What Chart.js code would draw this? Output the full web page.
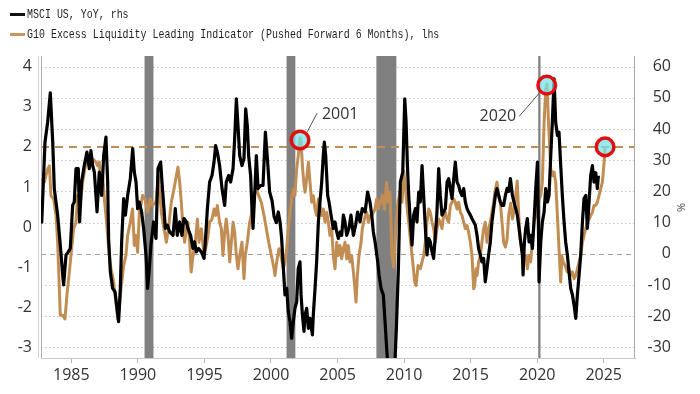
<!DOCTYPE html>
<html>
<head>
<meta charset="utf-8">
<script src="https://cdn.jsdelivr.net/npm/chart.js@4.4.1/dist/chart.umd.min.js"></script>
<style>
html,body{margin:0;padding:0;background:#fff;}
#wrap{position:relative;width:700px;height:394px;overflow:hidden;}
#c{position:absolute;left:0;top:0;}
.mk{position:absolute;left:10px;width:15px;height:3px;}
.leg{position:absolute;left:27px;font-family:'Liberation Mono','DejaVu Sans Mono',monospace;font-size:13px;line-height:15px;color:#1e1e1e;white-space:nowrap;transform:scaleX(0.766);transform-origin:0 50%;}
#pct{position:absolute;left:677px;top:200px;font-family:'Open Sans',sans-serif;font-size:11px;color:#444;transform:rotate(90deg);transform-origin:50% 50%;}
</style>
</head>
<body>
<div id="wrap">
<canvas id="c" width="700" height="394"></canvas>
<div class="mk" style="top:13px;background:#111;"></div>
<div class="leg" style="top:6.5px;">MSCI US, YoY, rhs</div>
<div class="mk" style="top:33px;background:#c8965c;"></div>
<div class="leg" style="top:26.5px;">G10 Excess Liquidity Leading Indicator (Pushed Forward 6 Months), lhs</div>
<div id="pct">%</div>
</div>
<script>
// ---- Data (decimal years) ----
const msciYears = [1982.77,1983.02,1983.22,1983.42,1983.6,1983.72,1983.97,1984.17,1984.35,1984.42,1984.6,1984.77,1984.92,1985.1,1985.22,1985.35,1985.52,1985.62,1985.77,1985.97,1986.17,1986.35,1986.47,1986.6,1986.73,1986.93,1987.1,1987.28,1987.43,1987.6,1987.73,1987.8,1987.93,1988.1,1988.28,1988.43,1988.55,1988.68,1988.78,1988.93,1989.06,1989.23,1989.43,1989.61,1989.73,1989.86,1989.98,1990.11,1990.28,1990.43,1990.61,1990.73,1990.86,1990.98,1991.18,1991.36,1991.51,1991.71,1991.81,1991.96,1992.06,1992.21,1992.39,1992.64,1992.81,1992.96,1993.14,1993.31,1993.46,1993.64,1993.76,1993.96,1994.14,1994.26,1994.39,1994.56,1994.77,1994.97,1995.07,1995.22,1995.39,1995.57,1995.72,1995.84,1995.97,1996.14,1996.32,1996.52,1996.64,1996.82,1996.97,1997.15,1997.27,1997.4,1997.52,1997.65,1997.82,1997.97,1998.1,1998.22,1998.32,1998.47,1998.57,1998.65,1998.77,1998.9,1999.03,1999.22,1999.4,1999.58,1999.73,1999.9,2000.08,2000.23,2000.4,2000.55,2000.68,2000.8,2000.93,2001.05,2001.18,2001.3,2001.43,2001.55,2001.68,2001.8,2001.93,2002.05,2002.18,2002.26,2002.36,2002.48,2002.56,2002.68,2002.81,2002.93,2003.11,2003.18,2003.31,2003.43,2003.56,2003.68,2003.81,2003.93,2004.01,2004.11,2004.26,2004.36,2004.51,2004.68,2004.81,2004.94,2005.06,2005.19,2005.31,2005.44,2005.56,2005.69,2005.86,2006.01,2006.19,2006.36,2006.51,2006.69,2006.86,2007.07,2007.26,2007.44,2007.57,2007.69,2007.82,2008.02,2008.12,2008.27,2008.44,2008.57,2008.69,2008.82,2008.98,2009.14,2009.28,2009.42,2009.57,2009.72,2009.9,2010.05,2010.15,2010.25,2010.35,2010.47,2010.6,2010.72,2010.85,2010.97,2011.1,2011.22,2011.35,2011.47,2011.6,2011.72,2011.85,2011.97,2012.1,2012.22,2012.35,2012.47,2012.6,2012.72,2012.85,2012.97,2013.1,2013.23,2013.35,2013.48,2013.6,2013.73,2013.85,2013.98,2014.1,2014.23,2014.35,2014.48,2014.6,2014.73,2014.85,2014.98,2015.1,2015.23,2015.35,2015.48,2015.6,2015.73,2015.85,2015.98,2016.1,2016.23,2016.35,2016.48,2016.6,2016.73,2016.86,2016.98,2017.11,2017.23,2017.36,2017.48,2017.61,2017.74,2017.86,2017.99,2018.14,2018.26,2018.39,2018.51,2018.64,2018.76,2018.89,2018.94,2019.04,2019.14,2019.26,2019.39,2019.51,2019.64,2019.76,2019.89,2020.02,2020.09,2020.14,2020.27,2020.39,2020.52,2020.64,2020.77,2020.89,2021.02,2021.14,2021.27,2021.39,2021.52,2021.64,2021.77,2021.89,2022.02,2022.14,2022.27,2022.39,2022.52,2022.65,2022.77,2022.9,2023.02,2023.15,2023.27,2023.4,2023.52,2023.65,2023.77,2023.9,2024.02,2024.15,2024.27,2024.4,2024.52,2024.6];
const msciYoY = [9.7,35.8,42.2,51.6,35.8,20.9,12.4,2.8,-6.8,-10,-0.4,0.6,1.7,15.6,16.6,27.3,27.3,10.2,23,28.3,32.6,27.3,33.1,28.3,26.2,13.4,26.2,18.7,31.5,37.4,23,4.9,-5.8,-11.1,-12.2,-17.5,-21.8,-11.1,3.8,17.7,12.4,18.7,24.1,33.7,26.2,23,14.5,16.6,13.4,8.1,-0.4,-11.1,-4.7,2.8,10.2,4.9,27.3,29.4,23,14.5,8.1,9.2,7,5.9,14.5,5.9,10.2,5.9,11.3,10.2,8.1,5.9,1.7,3.8,0.6,1.7,0.6,-1.5,3.8,14.5,23,25.1,29.4,34.7,32.6,28.3,20.9,15.5,23,25.1,23,27.3,36.9,49.7,41.1,31.5,28.3,30.5,46.5,41.1,31.5,25.1,14.5,8.1,18.7,31.5,20.9,21.9,21.9,39,30.5,19.8,17,12,10,13.4,10.2,4.9,-4.7,-13.2,-11.1,-18.6,-21.8,-27.1,-21.8,-17.5,-15.4,-4.7,-2.6,-13.2,-19.6,-24.9,-19.6,-17.5,-23.9,-20.7,-26,-19.6,-11.1,-2.6,10.2,16.6,23,31.5,35.8,31.5,18.7,16.6,12.4,8.1,10.2,7,4.9,7,5.9,12.4,10.2,5.9,8.1,12.4,5.9,9.2,13.4,10.2,14.5,13.4,19.8,16.6,12.4,7,3.8,-2.6,-6.8,-11.1,-13.2,-21.8,-30.3,-38,-43,-45,-38,-24,-5,23,26.2,49.7,42.2,28.3,18.7,10.2,2.8,12.4,14.5,10.2,19.8,16.6,28.3,18.7,8.1,-0.4,4.9,3.8,0.6,-1.5,5.9,13.4,27.3,18.7,12.4,13.4,14.5,23,24.1,20.9,17.7,24.1,29.4,23,21.9,19.8,18.7,20.9,16.6,14.5,13.4,12.4,11.3,10.2,9.2,5.9,1.7,-0.4,-2.6,-1.5,-9,-4.7,-0.4,3.8,10.2,14.5,18.7,20.9,18.7,16.6,15.5,15.5,18.7,21,20,24.1,18.7,16.6,14.5,12.4,8.1,3.8,-0.4,-6.8,3.8,8.1,11.3,3.8,5.9,1.7,10.2,20.9,29.4,10.2,-9,3.8,10.2,13.4,20.9,16.6,18.7,31.5,42.2,56.1,42.2,37.9,39,28.3,18.7,10.2,3.8,-0.4,-5.8,-11.1,-13.2,-16.4,-20.7,-13.2,-6.8,-0.4,10.2,17.7,18.7,8.1,16.6,25.1,28.3,23,26,20.9,25.1];

const liqYears = [1982.72,1982.97,1983.22,1983.35,1983.47,1983.67,1983.85,1983.97,1984.1,1984.17,1984.35,1984.52,1984.67,1984.85,1984.97,1985.17,1985.35,1985.47,1985.6,1985.85,1986.02,1986.22,1986.42,1986.6,1986.85,1986.97,1987.1,1987.23,1987.35,1987.48,1987.6,1987.73,1987.85,1987.98,1988.18,1988.35,1988.48,1988.6,1988.73,1988.93,1989.1,1989.23,1989.43,1989.6,1989.73,1989.86,1989.98,1990.11,1990.36,1990.53,1990.73,1990.93,1991.1,1991.36,1991.54,1991.76,1991.96,1992.14,1992.31,1992.51,1992.71,1992.89,1993.01,1993.14,1993.26,1993.39,1993.51,1993.64,1993.76,1993.89,1994.0,1994.14,1994.31,1994.47,1994.59,1994.77,1994.97,1995.14,1995.27,1995.39,1995.57,1995.72,1995.84,1995.97,1996.14,1996.27,1996.39,1996.52,1996.64,1996.77,1996.9,1997.02,1997.15,1997.27,1997.4,1997.52,1997.65,1997.82,1997.97,1998.07,1998.22,1998.4,1998.52,1998.72,1998.9,1999.07,1999.27,1999.48,1999.65,1999.83,2000.03,2000.23,2000.3,2000.43,2000.6,2000.75,2000.93,2001.05,2001.18,2001.3,2001.43,2001.55,2001.68,2001.8,2001.93,2002.05,2002.18,2002.26,2002.36,2002.46,2002.56,2002.68,2002.81,2002.93,2003.06,2003.18,2003.31,2003.43,2003.56,2003.68,2003.81,2003.93,2004.06,2004.18,2004.31,2004.43,2004.56,2004.68,2004.81,2004.94,2005.06,2005.19,2005.31,2005.44,2005.56,2005.69,2005.81,2005.94,2006.06,2006.19,2006.31,2006.39,2006.49,2006.61,2006.77,2006.86,2007.02,2007.19,2007.32,2007.44,2007.57,2007.82,2007.94,2008.07,2008.19,2008.37,2008.52,2008.69,2008.82,2008.94,2009.09,2009.22,2009.35,2009.5,2009.72,2009.85,2009.97,2010.1,2010.22,2010.35,2010.47,2010.6,2010.72,2010.8,2010.9,2011.05,2011.22,2011.35,2011.47,2011.6,2011.72,2011.85,2011.97,2012.1,2012.22,2012.35,2012.47,2012.6,2012.72,2012.85,2012.97,2013.1,2013.23,2013.35,2013.48,2013.6,2013.73,2013.85,2013.98,2014.1,2014.23,2014.35,2014.48,2014.6,2014.73,2014.85,2014.98,2015.1,2015.23,2015.3,2015.41,2015.48,2015.6,2015.73,2015.85,2015.98,2016.1,2016.23,2016.35,2016.48,2016.6,2016.73,2016.86,2016.98,2017.11,2017.23,2017.36,2017.48,2017.61,2017.74,2017.86,2018.01,2018.14,2018.26,2018.39,2018.5,2018.6,2018.72,2018.85,2019.01,2019.14,2019.26,2019.39,2019.51,2019.64,2019.76,2019.89,2020.02,2020.14,2020.27,2020.39,2020.52,2020.64,2020.74,2020.85,2021.02,2021.14,2021.27,2021.39,2021.52,2021.64,2021.77,2021.85,2021.95,2022.1,2022.27,2022.4,2022.52,2022.65,2022.77,2022.9,2023.02,2023.15,2023.27,2023.4,2023.52,2023.65,2023.77,2023.9,2024.02,2024.15,2024.27,2024.4,2024.52,2024.65,2024.77,2024.9,2025.03,2025.1];
const liqIndicator = [1.2,1.12,1.45,1.53,0.78,0.7,0.29,-0.38,-1.54,-2.2,-2.2,-2.29,-1.7,-1.12,-0.71,-0.04,0.12,0.79,0.37,1.12,1.45,1.78,1.53,1.7,1.62,1.53,1.62,0.95,1.28,0.7,0.29,-0.21,-0.71,-1.04,-1.37,-1.87,-2.29,-2.04,-1.54,-0.96,-0.71,-0.21,0.12,0.45,-0.46,-0.21,-0.63,0.37,0.79,0.7,0.37,0.7,0.54,0.62,1.28,0.37,-0.04,-0.38,0.0,0.62,0.95,1.28,1.49,1.12,0.62,-0.04,-0.38,-0.04,0.12,-0.38,-1.12,-0.71,-0.38,0.2,-0.38,-0.04,-0.71,-0.46,-0.21,0.12,0.2,0.45,0.29,0.54,0.12,-0.04,-0.71,-0.13,0.2,-0.21,-0.87,-0.38,0.12,-0.13,-0.71,-1.04,-0.71,-0.38,-1.29,-0.71,-0.38,0.12,0.29,0.79,0.95,0.79,0.62,0.29,-0.04,-0.38,-0.71,-1.04,-1.21,-0.87,-0.54,-0.71,-1.04,-0.87,-0.54,-0.04,0.37,0.7,0.95,0.79,1.45,1.78,2.22,2.15,1.53,1.12,0.87,1.2,1.62,1.12,0.62,0.78,0.45,0.29,0.7,0.54,0.29,0.45,0.12,0.37,0.12,-0.21,-0.04,-0.71,-1.04,-0.38,-0.71,-0.46,-0.79,-0.54,-0.38,-0.79,-0.46,-0.87,-0.71,-1.12,-1.54,-1.87,-1.21,-0.71,-0.38,-0.04,0.2,0.37,0.12,0.29,0.29,0.45,0.7,0.45,0.62,0.79,0.45,1.12,0.62,0.87,-0.71,-1.0,-0.2,0.5,0.95,0.62,1.4,1.0,0.5,0.12,-0.3,-0.71,-1.1,-1.37,-1.46,-0.96,-1.04,-0.87,-0.71,-0.38,0.12,0.45,0.37,0.12,-0.04,-0.38,-0.04,0.2,0.12,-0.04,0.29,0.37,0.2,0.12,0.54,0.62,0.7,0.62,0.45,0.62,0.37,0.29,0.12,-0.04,0.04,-0.13,-0.38,-0.71,-1.54,-1.46,-1.04,-1.21,-0.87,-0.71,-0.38,-0.04,0.12,-0.38,-0.04,0.12,0.37,0.62,0.95,1.12,0.79,0.62,0.12,-0.38,-0.5,-0.3,0.3,0.6,0.2,0.4,0.8,1.15,0.4,-0.3,-0.54,-0.87,-0.71,-1.04,-0.71,-0.87,-0.38,0.12,0.29,0.45,0.7,0.79,1.12,2.61,3.44,3.57,2.61,1.45,1.28,1.37,1.12,0.29,-0.54,-1.37,-0.71,-0.87,-0.96,-1.12,-1.04,-1.21,-1.12,-1.29,-1.21,-1.04,-0.87,-0.71,-0.38,-0.21,-0.04,0.12,0.2,0.29,0.37,0.54,0.54,0.62,0.79,0.95,1.12,1.62,2.0];

const xTickYears = [1985,1990,1995,2000,2005,2010,2015,2020,2025];
const leftTicks = [-3,-2,-1,0,1,2,3,4];
const rightTicks = [-30,-20,-10,0,10,20,30,40,50,60];
const liqThreshold = 2;                 // dashed line, lhs
const recessionStarts = [1990.5, 2001.17, 2007.92, 2020.08];
const recessionEnds   = [1991.17, 2001.83, 2009.42, 2020.25];
const highlightLabels = ['2001','2020',''];
const highlightYears  = [2002.18, 2020.72, 2025.1];
const highlightValues = [2.17, 3.54, 2.0];
const labelYears  = [2005.2, 2017.05];
const labelValues = [2.81, 2.76];
const leaderFrom  = [[2002.73,2.38],[2020.29,3.39]];
const leaderTo    = [[2003.46,2.84],[2018.64,2.76]];

const xMin = 1982.72, xMax = 2027.35;
const leftMin = -3.266, leftMax = 4.267;
const rightMin = -33.43, rightMax = 63.43;

const ORANGE = '#c28d52';
const tickFont = {family:"'Open Sans', sans-serif", size:16};

const bgPlugin = {
  id:'bg',
  beforeDatasetsDraw(chart){
    const {ctx, chartArea:a, scales} = chart;
    const xs = scales.x, yl = scales.yL, yr = scales.yR;
    ctx.save();
    rightTicks.forEach(v=>{
      const y = Math.round(yr.getPixelForValue(v))+0.5;
      ctx.beginPath();
      if (v===0){ ctx.setLineDash([5,4]); ctx.strokeStyle='#a0a0a0'; }
      else { ctx.setLineDash([1.5,2.5]); ctx.strokeStyle='#c4c4c4'; }
      ctx.lineWidth=1;
      ctx.moveTo(a.left,y); ctx.lineTo(a.right,y); ctx.stroke();
    });
    ctx.setLineDash([]);
    ctx.fillStyle='#808080';
    recessionStarts.forEach((s,i)=>{
      const x0 = xs.getPixelForValue(s), x1 = xs.getPixelForValue(recessionEnds[i]);
      ctx.fillRect(x0, a.top, Math.max(1.5,x1-x0), a.bottom-a.top);
    });
    const ty = yl.getPixelForValue(liqThreshold);
    ctx.beginPath(); ctx.setLineDash([8,6]); ctx.strokeStyle=ORANGE; ctx.lineWidth=2;
    ctx.moveTo(a.left,ty); ctx.lineTo(a.right,ty); ctx.stroke();
    ctx.setLineDash([]); ctx.lineWidth=1; ctx.strokeStyle='#b0b0b0';
    ctx.beginPath(); ctx.moveTo(a.left+0.5,a.top); ctx.lineTo(a.left+0.5,a.bottom); ctx.stroke();
    ctx.strokeStyle='#d0d0d0';
    ctx.beginPath(); ctx.moveTo(a.left-2.5,a.top); ctx.lineTo(a.left-2.5,a.bottom); ctx.stroke();
    ctx.strokeStyle='#a8a8a8';
    ctx.beginPath(); ctx.moveTo(a.right-0.5,a.top); ctx.lineTo(a.right-0.5,a.bottom); ctx.stroke();
    ctx.restore();
  },
  afterDatasetsDraw(chart){
    const {ctx, scales} = chart;
    const xs = scales.x, yl = scales.yL;
    ctx.save();
    ctx.strokeStyle='#555'; ctx.lineWidth=1;
    leaderFrom.forEach((p,i)=>{
      ctx.beginPath();
      ctx.moveTo(xs.getPixelForValue(p[0]), yl.getPixelForValue(p[1]));
      ctx.lineTo(xs.getPixelForValue(leaderTo[i][0]), yl.getPixelForValue(leaderTo[i][1]));
      ctx.stroke();
    });
    highlightYears.forEach((yv,i)=>{
      const cx = xs.getPixelForValue(yv), cy = yl.getPixelForValue(highlightValues[i]);
      ctx.beginPath(); ctx.arc(cx,cy,8.8,0,Math.PI*2);
      ctx.fillStyle='rgba(120,228,232,0.75)'; ctx.fill();
      ctx.lineWidth=3.5; ctx.strokeStyle='#e01010'; ctx.stroke();
    });
    ctx.fillStyle='#333'; ctx.font="16px 'Open Sans', sans-serif";
    ctx.textAlign='center'; ctx.textBaseline='middle';
    labelYears.forEach((yv,i)=>{
      ctx.fillText(highlightLabels[i], xs.getPixelForValue(yv), yl.getPixelForValue(labelValues[i]));
    });
    ctx.restore();
  }
};

new Chart(document.getElementById('c'), {
  type:'line',
  data:{ datasets:[
    { label:'MSCI US, YoY, rhs', yAxisID:'yR', order:0,
      data: msciYears.map((x,i)=>({x, y:msciYoY[i]})),
      borderColor:'#000', borderWidth:3.2, pointRadius:0, tension:0, borderJoinStyle:'round' },
    { label:'G10 Excess Liquidity Leading Indicator (Pushed Forward 6 Months), lhs', yAxisID:'yL', order:1,
      data: liqYears.map((x,i)=>({x, y:liqIndicator[i]})),
      borderColor:ORANGE, borderWidth:3, pointRadius:0, tension:0, borderJoinStyle:'round' }
  ]},
  options:{
    responsive:false, animation:false, devicePixelRatio:1,
    layout:{ padding:{ top:56, right:29, left:0, bottom:0 } },
    plugins:{ legend:{display:false}, tooltip:{enabled:false} },
    scales:{
      x:{ type:'linear', min:xMin, max:xMax,
        afterBuildTicks:s=>{ s.ticks = xTickYears.map(v=>({value:v})); },
        afterFit:s=>{ s.height = 36; },
        ticks:{ callback:v=>String(v), font:tickFont, color:'#333', padding:3, maxRotation:0, autoSkip:false },
        grid:{ drawOnChartArea:false, drawTicks:true, tickLength:5, color:'#b8b8b8' },
        border:{ display:true, color:'#c8c8c8' } },
      yL:{ type:'linear', position:'left', min:leftMin, max:leftMax,
        afterBuildTicks:s=>{ s.ticks = leftTicks.map(v=>({value:v})); },
        afterFit:s=>{ s.width = 41; },
        ticks:{ callback:v=>String(v), font:tickFont, color:'#333', padding:9 },
        grid:{ display:false, drawTicks:false }, border:{ display:false } },
      yR:{ type:'linear', position:'right', min:rightMin, max:rightMax,
        afterBuildTicks:s=>{ s.ticks = rightTicks.map(v=>({value:v})); },
        afterFit:s=>{ s.width = 36; },
        ticks:{ callback:v=>String(v), font:tickFont, color:'#333', crossAlign:'far', padding:0 },
        grid:{ display:false, drawTicks:false }, border:{ display:false } }
    }
  },
  plugins:[bgPlugin]
});
</script>
</body>
</html>
